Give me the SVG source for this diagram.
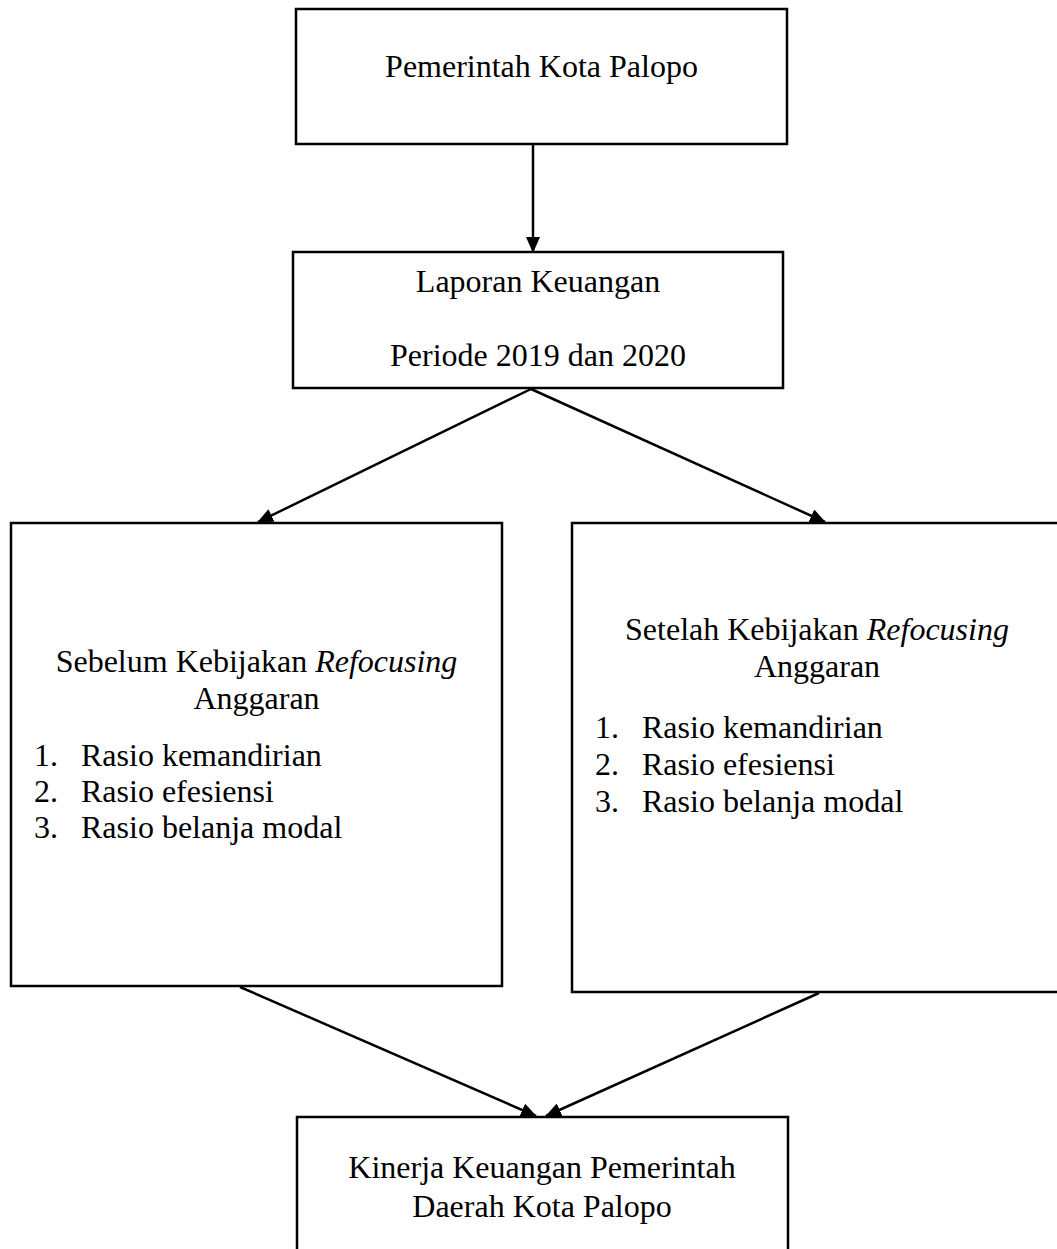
<svg xmlns="http://www.w3.org/2000/svg" width="1057" height="1249" viewBox="0 0 1057 1249">
<style>
.box{fill:#fff;stroke:#000;stroke-width:2.5}
.t{font-family:"Liberation Serif","Times New Roman",serif;font-size:32px;fill:#000}
.c{text-anchor:middle}
.edge{stroke:#000;stroke-width:2.5;fill:none;marker-end:url(#ah)}
</style>
<defs>
<marker id="ah" markerUnits="userSpaceOnUse" markerWidth="16" markerHeight="14" refX="15" refY="7" orient="auto" viewBox="0 0 16 14">
<path d="M0,0 L16,7 L0,14 z" fill="#000"/>
</marker>
</defs>
<rect width="1057" height="1249" fill="#fff"/>
<g id="n1">
<rect class="box" x="296" y="9" width="491" height="135"/>
<text class="t c" x="541.5" y="77">Pemerintah Kota Palopo</text>
</g>
<g id="n2">
<rect class="box" x="293" y="252" width="490" height="136"/>
<text class="t c" x="538" y="292">Laporan Keuangan</text>
<text class="t c" x="538" y="366">Periode 2019 dan 2020</text>
</g>
<g id="n3">
<rect class="box" x="11" y="523" width="491" height="463"/>
<text class="t c" x="256.5" y="672">Sebelum Kebijakan <tspan font-style="italic">Refocusing</tspan></text>
<text class="t c" x="256.5" y="709">Anggaran</text>
<text class="t" x="34" y="766">1.</text><text class="t" x="81" y="766">Rasio kemandirian</text>
<text class="t" x="34" y="802">2.</text><text class="t" x="81" y="802">Rasio efesiensi</text>
<text class="t" x="34" y="838">3.</text><text class="t" x="81" y="838">Rasio belanja modal</text>
</g>
<g id="n4">
<rect class="box" x="572" y="523" width="492" height="469"/>
<text class="t c" x="817" y="640">Setelah Kebijakan <tspan font-style="italic">Refocusing</tspan></text>
<text class="t c" x="817" y="677">Anggaran</text>
<text class="t" x="595" y="738">1.</text><text class="t" x="642" y="738">Rasio kemandirian</text>
<text class="t" x="595" y="775">2.</text><text class="t" x="642" y="775">Rasio efesiensi</text>
<text class="t" x="595" y="812">3.</text><text class="t" x="642" y="812">Rasio belanja modal</text>
</g>
<g id="n5">
<rect class="box" x="297" y="1117" width="491" height="150"/>
<text class="t c" x="542" y="1178">Kinerja Keuangan Pemerintah</text>
<text class="t c" x="542" y="1217">Daerah Kota Palopo</text>
</g>
<g id="connectors">
<line class="edge" x1="533" y1="145" x2="533" y2="252"/>
<line class="edge" x1="531" y1="389" x2="258" y2="522"/>
<line class="edge" x1="531" y1="389" x2="825" y2="522"/>
<line class="edge" x1="240" y1="987" x2="536" y2="1116"/>
<line class="edge" x1="819" y1="993" x2="546" y2="1116"/>
</g>
</svg>
